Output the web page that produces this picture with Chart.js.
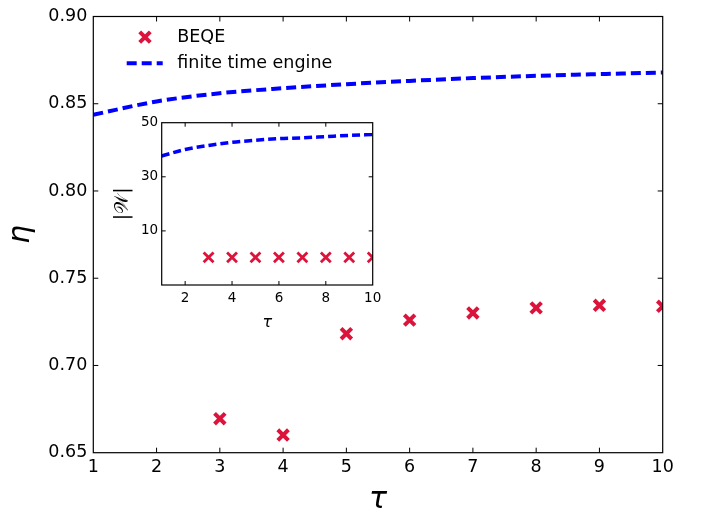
<!DOCTYPE html>
<html><head><meta charset="utf-8">
<script src="https://cdn.jsdelivr.net/npm/chart.js@4"></script>
<style>
html,body{margin:0;padding:0;background:#fff;}
#wrap{position:relative;width:713px;height:517px;}
#main{position:absolute;left:0;top:0;}
#inset{position:absolute;left:110px;top:105px;}
</style></head><body>
<div id="wrap"><canvas id="main" width="713" height="517"></canvas><canvas id="inset" width="280" height="230"></canvas></div>
<script>
// ---- data ----
const tau = [1, 2, 3, 4, 5, 6, 7, 8, 9, 10];
const beqeTau = [3, 4, 5, 6, 7, 8, 9, 10];
const beqeEta = [0.6695, 0.6601, 0.7182, 0.7260, 0.7301, 0.7330, 0.7345, 0.7339];
const engineEta = [0.8437, 0.8513, 0.8560, 0.8589, 0.8612, 0.8631, 0.8647, 0.8660, 0.8670, 0.8679];
const beqeW = [0.2, 0.2, 0.2, 0.2, 0.2, 0.2, 0.2, 0.2];
const engineW = [37.7, 40.1, 41.6, 42.75, 43.5, 44.1, 44.4, 44.85, 45.3, 45.6];
const seriesLabels = ['BEQE', 'finite time engine'];
const mainXTicks = [1, 2, 3, 4, 5, 6, 7, 8, 9, 10];
const mainYTicks = [0.65, 0.70, 0.75, 0.80, 0.85, 0.90];
const insetXTicks = [2, 4, 6, 8, 10];
const insetYTicks = [10, 30, 50];
const mainYRange = [0.65, 0.90];
const insetYRange = [-10, 50];
const xRange = [1, 10];
const xTitle = 'τ';
const yTitle = 'η';
const insetYTitle = '|𝒲|';

const RED = '#DC143C', BLUE = '#0000FF';
const FONT = 'DejaVu Sans';

const framePlugin = {
  id: 'frame',
  beforeDatasetsDraw(chart, args, opts) {
    if (!opts.fill) return;
    const {ctx, chartArea: a} = chart;
    ctx.save(); ctx.fillStyle = '#fff';
    ctx.fillRect(a.left, a.top, a.right - a.left, a.bottom - a.top);
    ctx.restore();
  },
  afterDatasetsDraw(chart, args, opts) {
    const {ctx, chartArea: a, scales: {x, y}} = chart;
    const L = opts.len;
    ctx.save();
    ctx.strokeStyle = '#000'; ctx.lineWidth = 1; ctx.setLineDash([]);
    ctx.beginPath();
    x.ticks.forEach(t => {
      const p = x.getPixelForValue(t.value);
      if (p <= a.left + 0.5 || p >= a.right - 0.5) return;
      ctx.moveTo(p, a.bottom); ctx.lineTo(p, a.bottom - L);
      ctx.moveTo(p, a.top); ctx.lineTo(p, a.top + L);
    });
    y.ticks.forEach(t => {
      const p = y.getPixelForValue(t.value);
      if (p <= a.top + 0.5 || p >= a.bottom - 0.5) return;
      ctx.moveTo(a.left, p); ctx.lineTo(a.left + L, p);
      ctx.moveTo(a.right, p); ctx.lineTo(a.right - L, p);
    });
    ctx.stroke();
    ctx.lineWidth = 1.2;
    ctx.strokeRect(a.left, a.top, a.right - a.left, a.bottom - a.top);
    ctx.restore();
  }
};

const legendPlugin = {
  id: 'mylegend',
  afterDraw(chart) {
    const {ctx, chartArea: a} = chart;
    const ds = chart.data.datasets;
    ctx.save();
    ctx.strokeStyle = ds[0].borderColor; ctx.fillStyle = ds[0].borderColor;
    ctx.lineWidth = ds[0].borderWidth;
    Chart.helpers.drawPoint(ctx, {pointStyle: 'crossRot', radius: ds[0].pointRadius, borderWidth: ds[0].borderWidth}, a.left + 51.7, a.top + 20.6);
    ctx.strokeStyle = ds[1].borderColor; ctx.lineWidth = ds[1].borderWidth;
    ctx.setLineDash(ds[1].borderDash);
    ctx.beginPath(); ctx.moveTo(a.left + 33.4, a.top + 46.8); ctx.lineTo(a.left + 69.4, a.top + 46.8); ctx.stroke();
    ctx.setLineDash([]);
    ctx.fillStyle = '#000'; ctx.font = '17.5px "DejaVu Sans"';
    ctx.textBaseline = 'middle'; ctx.textAlign = 'left';
    ctx.fillText(ds[0].label, a.left + 84, a.top + 21);
    ctx.fillText(ds[1].label, a.left + 84, a.top + 47);
    ctx.restore();
  }
};

function pts(xs, ys) { return xs.map((v, i) => ({x: v, y: ys[i]})); }

new Chart(document.getElementById('main'), {
  type: 'scatter',
  data: {
    datasets: [
      {label: seriesLabels[0], data: pts(beqeTau, beqeEta), showLine: false, pointStyle: 'crossRot',
       pointRadius: 7.5, borderWidth: 4, borderColor: RED, backgroundColor: RED, clip: 0},
      {label: seriesLabels[1], data: pts(tau, engineEta), showLine: true, pointRadius: 0, borderColor: BLUE,
       backgroundColor: BLUE, borderWidth: 4, borderDash: [10, 5], cubicInterpolationMode: 'monotone', clip: 0}
    ]
  },
  options: {
    responsive: false, animation: false, events: [],
    layout: {padding: {left: 0, top: 12.7, right: 50.3, bottom: 0}},
    plugins: {legend: {display: false}, tooltip: {enabled: false}, frame: {len: 5}},
    scales: {
      x: {
        type: 'linear', min: xRange[0], max: xRange[1],
        afterBuildTicks: s => { s.ticks = mainXTicks.map(v => ({value: v})); },
        afterFit: s => { s.height = 64.3; },
        grid: {display: false, drawTicks: false}, border: {display: false},
        ticks: {color: '#000', font: {family: FONT, size: 17.5}, padding: 4.5, maxRotation: 0, callback: v => String(v)},
        title: {display: true, text: xTitle, color: '#000', font: {family: FONT, size: 30, style: 'italic', lineHeight: 1}, padding: {top: 0, bottom: 2}}
      },
      y: {
        type: 'linear', min: mainYRange[0], max: mainYRange[1],
        afterBuildTicks: s => { s.ticks = mainYTicks.map(v => ({value: v})); },
        afterFit: s => { s.width = 93.3; },
        grid: {display: false, drawTicks: false}, border: {display: false},
        ticks: {color: '#000', font: {family: FONT, size: 17.5}, padding: 6, callback: v => v.toFixed(2)},
        title: {display: true, text: yTitle, color: '#000', font: {family: FONT, size: 30, style: 'italic', lineHeight: 1}, padding: {top: 6, bottom: 0}}
      }
    }
  },
  plugins: [framePlugin, legendPlugin]
});

new Chart(document.getElementById('inset'), {
  type: 'scatter',
  data: {
    datasets: [
      {label: seriesLabels[0], data: pts(beqeTau, beqeW), showLine: false, pointStyle: 'crossRot',
       pointRadius: 7, borderWidth: 2.8, borderColor: RED, backgroundColor: RED, clip: 0},
      {label: seriesLabels[1], data: pts(tau, engineW), showLine: true, pointRadius: 0, borderColor: BLUE,
       backgroundColor: BLUE, borderWidth: 3.5, borderDash: [8, 4], cubicInterpolationMode: 'monotone', clip: 0}
    ]
  },
  options: {
    responsive: false, animation: false, events: [],
    layout: {padding: {left: 0, top: 17.7, right: 17.3, bottom: 0}},
    plugins: {legend: {display: false}, tooltip: {enabled: false}, frame: {len: 4, fill: true}},
    scales: {
      x: {
        type: 'linear', min: xRange[0], max: xRange[1],
        afterBuildTicks: s => { s.ticks = insetXTicks.map(v => ({value: v})); },
        afterFit: s => { s.height = 50; },
        grid: {display: false, drawTicks: false}, border: {display: false},
        ticks: {color: '#000', font: {family: FONT, size: 13.5}, padding: 5, maxRotation: 0, callback: v => String(v)},
        title: {display: true, text: xTitle, color: '#000', font: {family: FONT, size: 16, style: 'italic', lineHeight: 1}, padding: {top: 0, bottom: 4}}
      },
      y: {
        type: 'linear', min: insetYRange[0], max: insetYRange[1],
        afterBuildTicks: s => { s.ticks = insetYTicks.map(v => ({value: v})); },
        afterFit: s => { s.width = 51.7; },
        grid: {display: false, drawTicks: false}, border: {display: false},
        ticks: {color: '#000', font: {family: FONT, size: 13.5}, padding: 3.5, callback: v => String(v)},
        title: {display: true, text: insetYTitle, color: '#000', font: {family: FONT, size: 19, lineHeight: 1}, padding: {top: 4, bottom: 0}}
      }
    }
  },
  plugins: [framePlugin]
});
</script>
</body></html>
